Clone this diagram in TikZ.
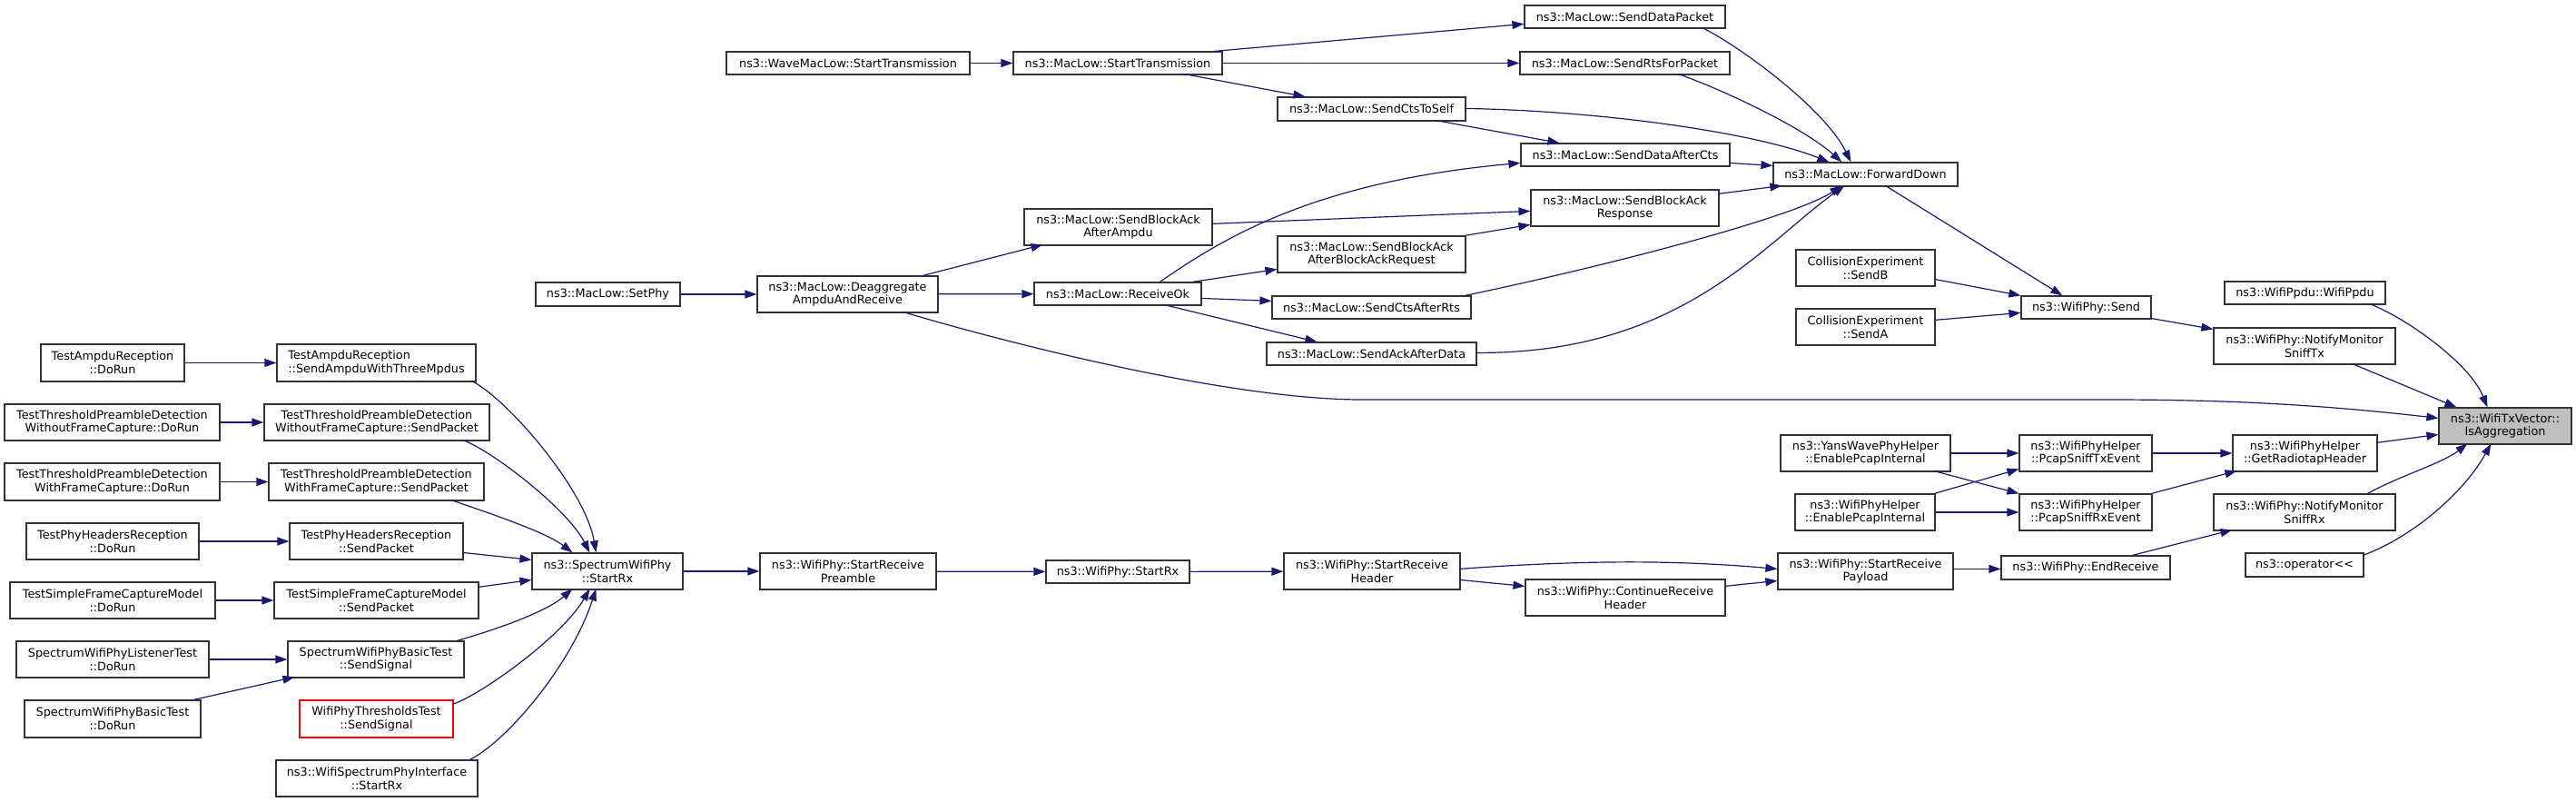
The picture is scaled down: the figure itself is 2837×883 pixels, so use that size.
\documentclass[tikz,border=0pt]{standalone}
\usepackage{fontspec}
\setmainfont{DejaVu Sans}
\usetikzlibrary{arrows.meta,calc}
\definecolor{navy}{HTML}{191970}
\definecolor{boxline}{HTML}{333333}
\tikzset{
  fnbox/.style={draw=boxline, line width=1.2pt, fill=white, inner sep=0pt, align=center,
    font=\fontsize{12.8}{14.7}\selectfont},
  cl/.style={draw=navy, line width=1.2pt, -{Triangle[length=13pt,width=9pt]}},
}
\newcommand\bx[7][]{\node[fnbox,#1,minimum width={(#5-#3)*1pt},minimum height={(#6-#4)*1pt}] (#2) at ({(#3+#5)/2},{(#4+#6)/2}) {#7};}
\begin{document}
\begin{tikzpicture}[x=1pt,y=-1pt]
\useasboundingbox (0,0) rectangle (2837,883);
% nodes
\bx{wave}{800}{57}{1068}{82}{ns3::WaveMacLow::StartTransmission}
\bx{stx}{1116}{57}{1346}{82}{ns3::MacLow::StartTransmission}
\bx{sdp}{1679}{6}{1900}{31}{ns3::MacLow::SendDataPacket}
\bx{srts}{1674}{57}{1905}{82}{ns3::MacLow::SendRtsForPacket}
\bx{scts}{1407}{107}{1614}{133}{ns3::MacLow::SendCtsToSelf}
\bx{sdac}{1675}{158}{1905}{183}{ns3::MacLow::SendDataAfterCts}
\bx{fd}{1953}{179}{2156}{205}{ns3::MacLow::ForwardDown}
\bx{sbar}{1686}{209}{1893}{249}{ns3::MacLow::SendBlockAck\\Response}
\bx{sbaa}{1128}{230}{1335}{270}{ns3::MacLow::SendBlockAck\\AfterAmpdu}
\bx{sbabr}{1407}{260}{1614}{300}{ns3::MacLow::SendBlockAck\\AfterBlockAckRequest}
\bx{setphy}{590}{311}{749}{337}{ns3::MacLow::SetPhy}
\bx{deag}{834}{304}{1033}{344}{ns3::MacLow::Deaggregate\\AmpduAndReceive}
\bx{rok}{1139}{311}{1323}{336}{ns3::MacLow::ReceiveOk}
\bx{scar}{1401}{326}{1620}{351}{ns3::MacLow::SendCtsAfterRts}
\bx{saad}{1395}{377}{1626}{402}{ns3::MacLow::SendAckAfterData}
\bx{ceb}{1978}{275}{2131}{315}{CollisionExperiment\\::SendB}
\bx{cea}{1978}{340}{2131}{380}{CollisionExperiment\\::SendA}
\bx{send}{2226}{326}{2369}{351}{ns3::WifiPhy::Send}
\bx{ppdu}{2450}{310}{2627}{335}{ns3::WifiPpdu::WifiPpdu}
\bx{smtx}{2438}{361}{2638}{401}{ns3::WifiPhy::NotifyMonitor\\SniffTx}
\bx[fill={rgb,255:red,191;green,191;blue,191}]{isagg}{2686}{449}{2832}{489}{ns3::WifiTxVector::\\IsAggregation}
\bx{yans}{1961}{479}{2148}{519}{ns3::YansWavePhyHelper\\::EnablePcapInternal}
\bx{wphe}{1977}{544}{2131}{584}{ns3::WifiPhyHelper\\::EnablePcapInternal}
\bx{ptx}{2224}{479}{2370}{519}{ns3::WifiPhyHelper\\::PcapSniffTxEvent}
\bx{prx}{2224}{544}{2370}{584}{ns3::WifiPhyHelper\\::PcapSniffRxEvent}
\bx{grh}{2459}{479}{2618}{519}{ns3::WifiPhyHelper\\::GetRadiotapHeader}
\bx{smrx}{2438}{544}{2638}{584}{ns3::WifiPhy::NotifyMonitor\\SniffRx}
\bx{opl}{2473}{609}{2603}{635}{ns3::operator<{}<}
\bx{endr}{2204}{612}{2390}{638}{ns3::WifiPhy::EndReceive}
\bx{pay}{1958}{609}{2151}{649}{ns3::WifiPhy::StartReceive\\Payload}
\bx{crh}{1680}{638}{1900}{678}{ns3::WifiPhy::ContinueReceive\\Header}
\bx{srh}{1414}{609}{1608}{649}{ns3::WifiPhy::StartReceive\\Header}
\bx{wrx}{1152}{617}{1310}{642}{ns3::WifiPhy::StartRx}
\bx{pre}{837}{609}{1031}{649}{ns3::WifiPhy::StartReceive\\Preamble}
\bx{srx}{586}{609}{752}{649}{ns3::SpectrumWifiPhy\\::StartRx}
\bx{ampd}{45}{379}{203}{420}{TestAmpduReception\\::DoRun}
\bx[align=left]{amps}{305}{379}{524}{420}{TestAmpduReception\\::SendAmpduWithThreeMpdus}
\bx{wod}{5}{445}{242}{485}{TestThresholdPreambleDetection\\WithoutFrameCapture::DoRun}
\bx{wos}{291}{445}{539}{485}{TestThresholdPreambleDetection\\WithoutFrameCapture::SendPacket}
\bx{wid}{5}{510}{242}{551}{TestThresholdPreambleDetection\\WithFrameCapture::DoRun}
\bx{wis}{296}{510}{533}{551}{TestThresholdPreambleDetection\\WithFrameCapture::SendPacket}
\bx{phd}{29}{576}{219}{616}{TestPhyHeadersReception\\::DoRun}
\bx{phs}{319}{576}{510}{616}{TestPhyHeadersReception\\::SendPacket}
\bx{sfd}{11}{641}{237}{681}{TestSimpleFrameCaptureModel\\::DoRun}
\bx{sfs}{302}{641}{527}{681}{TestSimpleFrameCaptureModel\\::SendPacket}
\bx{lsd}{18}{706}{230}{746}{SpectrumWifiPhyListenerTest\\::DoRun}
\bx{bss}{317}{706}{511}{746}{SpectrumWifiPhyBasicTest\\::SendSignal}
\bx{bsd}{27}{771}{221}{812}{SpectrumWifiPhyBasicTest\\::DoRun}
\bx[draw=red]{ths}{330}{771}{499}{812}{WifiPhyThresholdsTest\\::SendSignal}
\bx{wsi}{304}{837}{526}{877}{ns3::WifiSpectrumPhyInterface\\::StartRx}
% edges
\draw[cl] (wave) -- (stx);
\draw[cl] ($(stx.north west)+(222,0)$) -- ($(sdp.north west)+(0,21)$);
\draw[cl] (stx) -- (srts);
\draw[cl] ($(stx.north west)+(188,25)$) -- ($(scts.north west)+(31,0)$);
\draw[cl] ($(scts.north west)+(174,26)$) -- ($(sdac.north west)+(43,0)$);
\draw[cl] ($(scts.north west)+(207,13)$) .. controls (1760,122) and (1930,145) .. ($(fd.north west)+(62,0)$);
\draw[cl] ($(sdp.north west)+(196,25)$) .. controls (1915,50) and (2010,120) .. ($(fd.north west)+(86,0)$);
\draw[cl] ($(srts.north west)+(175,25)$) .. controls (1900,100) and (1985,140) .. ($(fd.north west)+(76,0)$);
\draw[cl] ($(sdac.north west)+(230,22)$) -- ($(fd.north west)+(0,4)$);
\draw[cl] ($(sbar.north west)+(207,5)$) -- ($(fd.north west)+(10,26)$);
\draw[cl] ($(scar.north west)+(213,0)$) .. controls (1760,295) and (1975,240) .. ($(fd.north west)+(76,26)$);
\draw[cl] ($(saad.north west)+(231,12)$) .. controls (1850,390) and (1940,270) .. ($(fd.north west)+(79,26)$);
\draw[cl] ($(sbaa.north west)+(207,17)$) -- ($(sbar.north west)+(0,24)$);
\draw[cl] ($(sbabr.north west)+(207,0)$) -- ($(sbar.north west)+(0,39)$);
\draw[cl] ($(rok.north west)+(139,0)$) .. controls (1350,260) and (1450,200) .. ($(sdac.north west)+(0,22)$);
\draw[cl] ($(rok.north west)+(175,0)$) -- ($(sbabr.north west)+(0,37)$);
\draw[cl] ($(rok.north west)+(184,18)$) -- ($(scar.north west)+(0,6)$);
\draw[cl] ($(rok.north west)+(143,25)$) -- ($(saad.north west)+(56,0)$);
\draw[cl] ($(deag.north west)+(183,0)$) -- ($(sbaa.north west)+(21,40)$);
\draw[cl] (deag) -- (rok);
\draw[cl] ($(deag.north west)+(161,40)$) .. controls (1100,375) and (1350,440) .. (1500,440) -- (2320,440) .. controls (2450,440) and (2550,445) .. ($(isagg.north west)+(0,12)$);
\draw[cl] (setphy) -- (deag);
\draw[cl] ($(fd.north west)+(124,26)$) -- ($(send.north west)+(46,0)$);
\draw[cl] ($(ceb.north west)+(153,33)$) -- ($(send.north west)+(0,0)$);
\draw[cl] ($(cea.north west)+(153,13)$) -- ($(send.north west)+(0,19)$);
\draw[cl] ($(send.north west)+(143,25)$) -- ($(smtx.north west)+(0,2)$);
\draw[cl] ($(smtx.north west)+(153,40)$) -- ($(isagg.north west)+(20,0)$);
\draw[cl] ($(ppdu.north west)+(160,25)$) .. controls (2650,350) and (2720,400) .. ($(isagg.north west)+(54,0)$);
\draw[cl] ($(grh.north west)+(159,9)$) -- ($(isagg.north west)+(0,30)$);
\draw[cl] ($(smrx.north west)+(170,0)$) .. controls (2640,525) and (2690,510) .. ($(isagg.north west)+(32,40)$);
\draw[cl] ($(opl.north west)+(130,3)$) .. controls (2660,590) and (2715,540) .. ($(isagg.north west)+(58,40)$);
\draw[cl] (yans) -- (ptx);
\draw[cl] ($(yans.north west)+(169,40)$) -- ($(prx.north west)+(0,0)$);
\draw[cl] ($(wphe.north west)+(154,0)$) -- ($(ptx.north west)+(0,38)$);
\draw[cl] (wphe) -- (prx);
\draw[cl] (ptx) -- (grh);
\draw[cl] ($(prx.north west)+(146,0)$) -- ($(grh.north west)+(5,40)$);
\draw[cl] ($(endr.north west)+(145,0)$) -- ($(smrx.north west)+(21,40)$);
\draw[cl] ($(pay.north west)+(193,18)$) -- ($(endr.north west)+(0,15)$);
\draw[cl] ($(srh.north west)+(194,18)$) .. controls (1750,616) and (1850,617) .. ($(pay.north west)+(0,18)$);
\draw[cl] ($(srh.north west)+(194,30)$) -- ($(crh.north west)+(0,8)$);
\draw[cl] ($(crh.north west)+(220,8)$) -- ($(pay.north west)+(0,31)$);
\draw[cl] (wrx) -- (srh);
\draw[cl] (pre) -- (wrx);
\draw[cl] (srx) -- (pre);
\draw[cl] ($(amps.north west)+(215,41)$) .. controls (560,440) and (645,540) .. ($(srx.north west)+(71,0)$);
\draw[cl] ($(wos.north west)+(219,40)$) .. controls (540,495) and (625,560) .. ($(srx.north west)+(64,0)$);
\draw[cl] ($(wis.north west)+(201,41)$) .. controls (530,562) and (600,585) .. ($(srx.north west)+(45,0)$);
\draw[cl] ($(phs.north west)+(191,33)$) -- ($(srx.north west)+(0,8)$);
\draw[cl] ($(sfs.north west)+(225,6)$) -- ($(srx.north west)+(0,30)$);
\draw[cl] ($(bss.north west)+(187,0)$) .. controls (540,695) and (600,675) .. ($(srx.north west)+(45,40)$);
\draw[cl] ($(ths.north west)+(169,5)$) .. controls (530,765) and (620,700) .. ($(srx.north west)+(64,40)$);
\draw[cl] ($(wsi.north west)+(214,0)$) .. controls (560,815) and (630,730) .. ($(srx.north west)+(71,40)$);
\draw[cl] (ampd) -- (amps);
\draw[cl] (wod) -- (wos);
\draw[cl] (wid) -- (wis);
\draw[cl] (phd) -- (phs);
\draw[cl] (sfd) -- (sfs);
\draw[cl] (lsd) -- (bss);
\draw[cl] ($(bsd.north west)+(187,0)$) -- ($(bss.north west)+(8,40)$);
\end{tikzpicture}
\end{document}
